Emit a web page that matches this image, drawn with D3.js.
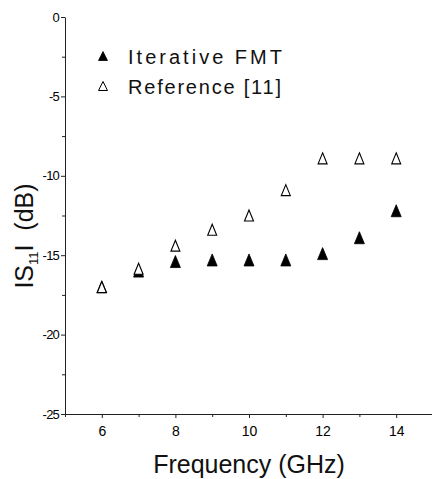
<!DOCTYPE html>
<html>
<head>
<meta charset="utf-8">
<script src="https://cdn.jsdelivr.net/npm/d3@7"></script>
<style>
  body { margin: 0; background: #fff; }
  svg { display: block; font-family: "Liberation Sans", Arial, sans-serif; }
  svg text { font-family: "Liberation Sans", Arial, sans-serif; }
  .domain { stroke: #222; }
  .tick line { stroke: #222; }
</style>
</head>
<body>
<svg width="432" height="479"></svg>
<script>
// chart data
var freqs = [6, 7, 8, 9, 10, 11, 12, 13, 14];
var fmtVals = [-17.0, -16.0, -15.4, -15.3, -15.3, -15.3, -14.9, -13.9, -12.2];
var refVals = [-17.0, -15.85, -14.4, -13.4, -12.5, -10.9, -8.9, -8.9, -8.9];
var xMajor = [6, 8, 10, 12, 14];
var xMinor = [5, 7, 9, 11, 13, 15];
var yMajor = [0, -5, -10, -15, -20, -25];
var yMinor = [-2.5, -7.5, -12.5, -17.5, -22.5];
var legendLabels = ["Iterative FMT", "Reference [11]"];

var svg = d3.select('svg');

var xScale = d3.scaleLinear().domain([5, 15]).range([65, 433]);
var yScale = d3.scaleLinear().domain([0, -25]).range([17, 414]);

// plain hyphen for negatives, like the original
var fmtTick = function(d) { return String(d); };

// y axis
svg.append('g')
    .attr('transform', 'translate(65,0)')
    .call(d3.axisLeft(yScale).tickValues(yMinor).tickSize(3).tickFormat(''))
    .select('.domain').remove();
var yAxis = svg.append('g')
    .attr('transform', 'translate(65,0)')
    .call(d3.axisLeft(yScale).tickValues(yMajor).tickSize(4).tickSizeOuter(0).tickPadding(2).tickFormat(fmtTick));
yAxis.selectAll('text')
    .attr('font-size', 13)
    .attr('letter-spacing', -0.8)
    .attr('fill', '#000');

// x axis
svg.append('g')
    .attr('transform', 'translate(0,414)')
    .call(d3.axisBottom(xScale).tickValues(xMinor).tickSize(3).tickFormat(''))
    .select('.domain').remove();
var xAxis = svg.append('g')
    .attr('transform', 'translate(0,414)')
    .call(d3.axisBottom(xScale).tickValues(xMajor).tickSize(4).tickSizeOuter(0).tickPadding(8).tickFormat(fmtTick));
xAxis.selectAll('text')
    .attr('font-size', 14)
    .attr('fill', '#000');

// axis titles
svg.append('text')
    .attr('x', 249)
    .attr('y', 473)
    .attr('text-anchor', 'middle')
    .attr('font-size', 25)
    .attr('fill', '#111')
    .text('Frequency (GHz)');

var yTitle = svg.append('text')
    .attr('transform', 'translate(33,236) rotate(-90)')
    .attr('text-anchor', 'middle')
    .attr('font-size', 25)
    .attr('fill', '#111');
yTitle.append('tspan').text('IS');
yTitle.append('tspan').attr('font-size', 13).attr('dy', 5).text('11');
yTitle.append('tspan').attr('dy', -5).text('I\u00a0 (dB)');

// triangle marker path, centred on 0,0
function tri(w, h) {
  return 'M0,' + (-h / 2) + 'L' + (w / 2) + ',' + (h / 2) + 'L' + (-w / 2) + ',' + (h / 2) + 'Z';
}

// Iterative FMT (filled)
svg.selectAll('.fmt')
    .data(freqs)
    .enter().append('path')
    .attr('class', 'fmt')
    .attr('d', tri(10, 12))
    .attr('transform', function(d, i) { return 'translate(' + xScale(d) + ',' + yScale(fmtVals[i]) + ')'; })
    .style('fill', '#000')
    .style('stroke', '#000')
    .style('stroke-width', 0.8);

// Reference [11] (open)
svg.selectAll('.ref')
    .data(freqs)
    .enter().append('path')
    .attr('class', 'ref')
    .attr('d', tri(9, 11))
    .attr('transform', function(d, i) { return 'translate(' + xScale(d) + ',' + yScale(refVals[i]) + ')'; })
    .style('fill', '#fff')
    .style('stroke', '#000')
    .style('stroke-width', 1.1);

// legend
var legend = svg.append('g');
legendLabels.forEach(function(lab, i) {
  var y = 56 + i * 30;
  legend.append('path')
      .attr('d', tri(9, 9))
      .attr('transform', 'translate(103,' + y + ')')
      .style('fill', i === 0 ? '#000' : '#fff')
      .style('stroke', '#000')
      .style('stroke-width', i === 0 ? 0.8 : 1);
  legend.append('text')
      .attr('x', 128)
      .attr('y', y + 8)
      .attr('font-size', 20)
      .attr('fill', '#111')
      .attr('textLength', i === 0 ? 154 : 153)
      .attr('lengthAdjust', 'spacing')
      .text(lab);
});
</script>
</body>
</html>
